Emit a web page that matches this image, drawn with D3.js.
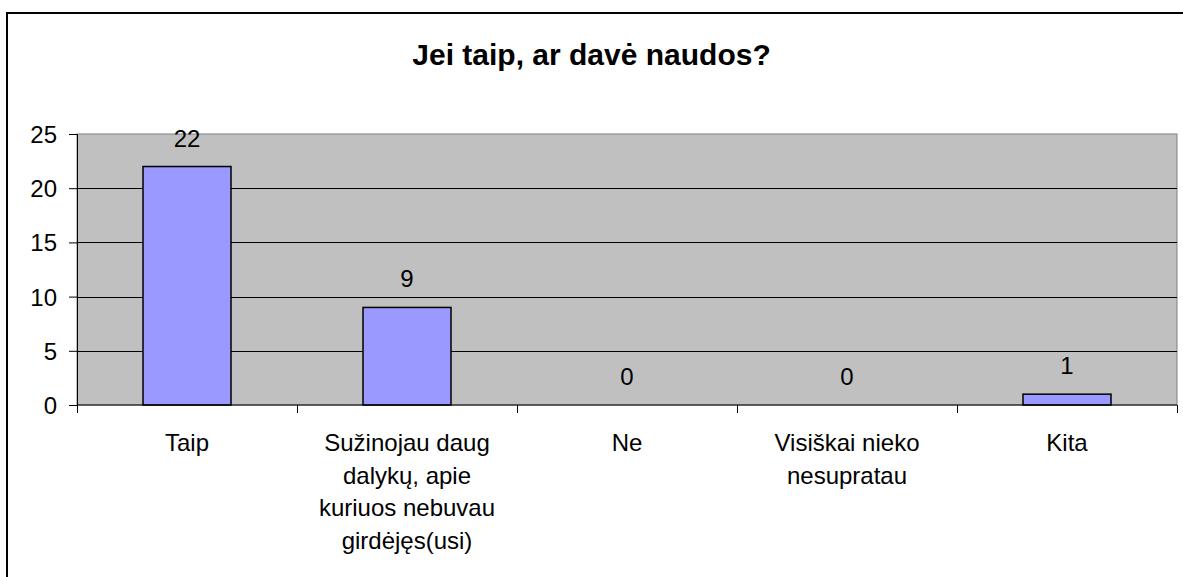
<!DOCTYPE html>
<html>
<head>
<meta charset="utf-8">
<script src="https://cdn.jsdelivr.net/npm/d3@7"></script>
<style>
  html, body { margin: 0; padding: 0; background: #fff; }
  svg { display: block; font-family: Arial, "Liberation Sans", sans-serif; }
</style>
</head>
<body>
<svg id="chart" width="1183" height="577"></svg>
<script>
const title = "Jei taip, ar davė naudos?";
const categories = [
  "Taip",
  "Sužinojau daug dalykų, apie kuriuos nebuvau girdėjęs(usi)",
  "Ne",
  "Visiškai nieko nesupratau",
  "Kita"
];
const values = [22, 9, 0, 0, 1];
const yTicks = [0, 5, 10, 15, 20, 25];

const svg = d3.select("#chart");
const W = 1183, H = 577;
const plot = { left: 77, right: 1177, top: 134, bottom: 405 };

svg.append("rect")
  .attr("x", 7).attr("y", 13)
  .attr("width", W + 20).attr("height", H + 20)
  .attr("fill", "#fff").attr("stroke", "#000").attr("stroke-width", 2);

svg.append("text")
  .attr("x", 591.5).attr("y", 65)
  .attr("text-anchor", "middle")
  .attr("font-size", 30).attr("font-weight", "bold")
  .text(title);

const x = d3.scaleBand()
  .domain(categories)
  .range([plot.left, plot.right])
  .paddingInner(0.6).paddingOuter(0.3);
const xOuter = d3.scaleBand().domain(categories).range([plot.left, plot.right]);
const y = d3.scaleLinear().domain([0, 25]).range([plot.bottom, plot.top]);

svg.append("rect")
  .attr("x", plot.left).attr("y", plot.top)
  .attr("width", plot.right - plot.left).attr("height", plot.bottom - plot.top)
  .attr("fill", "#C0C0C0").attr("stroke", "#808080").attr("stroke-width", 1);

svg.append("g").selectAll("line")
  .data(yTicks.filter(t => t > 0 && t < 25))
  .join("line")
  .attr("x1", plot.left).attr("x2", plot.right)
  .attr("y1", d => Math.round(y(d)) + 0.5).attr("y2", d => Math.round(y(d)) + 0.5)
  .attr("stroke", "#000").attr("stroke-width", 1);

svg.append("g").selectAll("rect")
  .data(values)
  .join("rect")
  .attr("x", (d, i) => x(categories[i]))
  .attr("width", x.bandwidth())
  .attr("y", d => y(d))
  .attr("height", d => y(0) - y(d))
  .attr("fill", "#9999FF")
  .attr("stroke", "#000").attr("stroke-width", 1.5);

svg.append("g").selectAll("text")
  .data(values)
  .join("text")
  .attr("x", (d, i) => x(categories[i]) + x.bandwidth() / 2)
  .attr("y", d => y(d) - 20)
  .attr("text-anchor", "middle")
  .attr("font-size", 24)
  .text(d => d);

const yAxis = d3.axisLeft(y).tickValues(yTicks).tickSize(8).tickPadding(12);
const yg = svg.append("g").attr("transform", `translate(${plot.left},0)`).call(yAxis);
yg.select(".domain").attr("stroke", "#000");
yg.selectAll(".tick line").attr("stroke", "#000");
yg.selectAll(".tick text").attr("font-size", 24).attr("fill", "#000")
  .attr("font-family", "Arial, 'Liberation Sans', sans-serif").attr("dy", "0.35em");

svg.append("line")
  .attr("x1", plot.left).attr("x2", plot.right)
  .attr("y1", plot.bottom).attr("y2", plot.bottom)
  .attr("stroke", "#000").attr("stroke-width", 1);
const boundaries = categories.map(c => xOuter(c)).concat([plot.right]);
svg.append("g").selectAll("line")
  .data(boundaries)
  .join("line")
  .attr("x1", d => Math.round(d) + 0.5).attr("x2", d => Math.round(d) + 0.5)
  .attr("y1", plot.bottom).attr("y2", plot.bottom + 8)
  .attr("stroke", "#000");

const lab = svg.append("g").selectAll("text")
  .data(categories)
  .join("text")
  .attr("x", d => xOuter(d) + xOuter.bandwidth() / 2)
  .attr("y", 451)
  .attr("text-anchor", "middle")
  .attr("font-size", 24);

lab.each(function(d) {
  const t = d3.select(this);
  const words = d.split(" ");
  const cx = +t.attr("x");
  let line = [];
  let tspan = t.append("tspan").attr("x", cx).attr("dy", 0);
  for (const w of words) {
    line.push(w);
    tspan.text(line.join(" "));
    if (tspan.node().getComputedTextLength() > 190 && line.length > 1) {
      line.pop();
      tspan.text(line.join(" "));
      line = [w];
      tspan = t.append("tspan").attr("x", cx).attr("dy", 32.5).text(w);
    }
  }
});
</script>
</body>
</html>
